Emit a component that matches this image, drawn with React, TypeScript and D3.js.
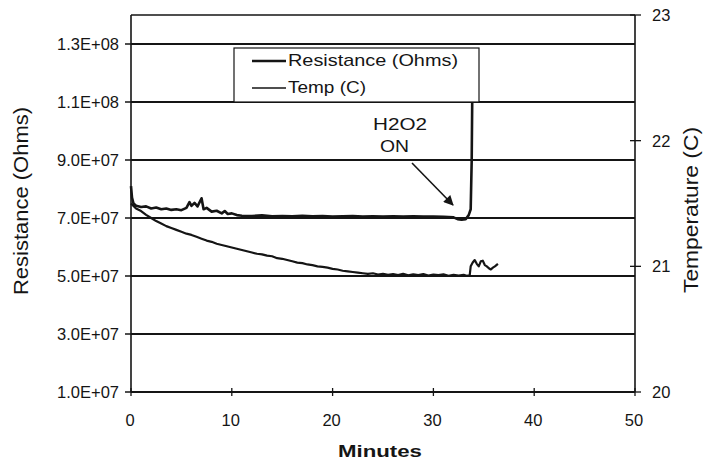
import React from "react";
import * as d3 from "d3";

const W = 707;
const H = 462;

const resTicks = [1e7, 3e7, 5e7, 7e7, 9e7, 1.1e8, 1.3e8];
const resTickLabels = ["1.0E+07", "3.0E+07", "5.0E+07", "7.0E+07", "9.0E+07", "1.1E+08", "1.3E+08"];
const tempTicks = [20, 21, 22, 23];
const minuteTicks = [0, 10, 20, 30, 40, 50];

// Resistance (Ohms) series
const resMinutes = [
  0, 0.1, 0.25, 0.5, 1, 1.5, 2, 2.5, 3, 3.5, 4, 4.5, 5, 5.5, 5.8, 6.0, 6.3, 6.6, 7.0, 7.2, 7.5, 8, 8.5, 9, 9.3, 9.6,
  10, 10.5, 11, 12, 13, 14, 15, 16, 17, 18, 19, 20, 21, 22, 23, 24, 25, 26, 27, 28, 29, 30, 31, 32, 32.4, 32.8,
  33.2, 33.5, 33.7, 33.8, 33.85,
];
const resOhms = [
  8.1e7, 7.7e7, 7.5e7, 7.42e7, 7.38e7, 7.4e7, 7.33e7, 7.36e7, 7.3e7, 7.33e7, 7.28e7, 7.3e7, 7.27e7, 7.35e7, 7.55e7,
  7.42e7, 7.52e7, 7.4e7, 7.68e7, 7.3e7, 7.35e7, 7.22e7, 7.25e7, 7.16e7, 7.24e7, 7.14e7, 7.16e7, 7.1e7, 7.08e7,
  7.07e7, 7.09e7, 7.06e7, 7.07e7, 7.06e7, 7.08e7, 7.06e7, 7.07e7, 7.05e7, 7.06e7, 7.07e7, 7.05e7, 7.06e7, 7.05e7,
  7.06e7, 7.05e7, 7.06e7, 7.05e7, 7.05e7, 7.04e7, 7.02e7, 6.96e7, 6.94e7, 6.96e7, 7.1e7, 7.3e7, 9.0e7, 1.1e8,
];

// Temperature (C) series
const tempMinutes = [
  0, 0.5, 1, 1.5, 2, 2.5, 3, 3.5, 4, 4.5, 5, 5.5, 6, 6.5, 7, 7.5, 8, 8.5, 9, 9.5, 10, 10.5, 11, 11.5, 12, 12.5, 13,
  13.5, 14, 14.5, 15, 15.5, 16, 16.5, 17, 17.5, 18, 18.5, 19, 19.5, 20, 20.5, 21, 21.5, 22, 22.5, 23, 23.5, 24, 24.5,
  25, 25.5, 26, 26.5, 27, 27.5, 28, 28.5, 29, 29.5, 30, 30.5, 31, 31.5, 32, 32.5, 33, 33.3, 33.6, 33.7, 33.9, 34.1,
  34.3, 34.5, 34.7, 34.9, 35.1, 35.3, 35.5, 35.7, 35.9, 36.1, 36.4,
];
const tempC = [
  21.5, 21.46, 21.44, 21.41, 21.385, 21.36, 21.34, 21.32, 21.305, 21.29, 21.275, 21.26, 21.25, 21.235, 21.22, 21.205,
  21.195, 21.18, 21.17, 21.16, 21.15, 21.14, 21.13, 21.12, 21.11, 21.1, 21.095, 21.085, 21.08, 21.065, 21.06, 21.05,
  21.04, 21.03, 21.025, 21.015, 21.01, 21.0, 20.995, 20.99, 20.98, 20.975, 20.965, 20.96, 20.955, 20.95, 20.945,
  20.94, 20.945, 20.935, 20.94, 20.932, 20.938, 20.93, 20.94, 20.928, 20.936, 20.93, 20.938, 20.926, 20.934, 20.93,
  20.936, 20.925, 20.933, 20.927, 20.932, 20.924, 20.928, 21.0, 21.03, 21.05, 21.02, 21.0, 21.04, 21.045, 21.01, 21.0,
  20.985, 20.975, 20.99, 21.0, 21.02,
];

const FONT = "'Liberation Sans', Arial, Helvetica, sans-serif";

export default function App() {
  const left = 131;
  const right = 635;
  const top = 15;
  const bottom = 392;

  const x = d3.scaleLinear().domain([0, 50]).range([left, right]);
  const yR = d3.scaleLinear().domain([1e7, 1.4e8]).range([bottom, top]);
  const yT = d3.scaleLinear().domain([20, 23]).range([bottom, top]);

  const resLine = d3
    .line<number>()
    .x((_, i) => x(resMinutes[i]))
    .y((d) => yR(d));
  const tempLine = d3
    .line<number>()
    .x((_, i) => x(tempMinutes[i]))
    .y((d) => yT(d));

  const ink = "#151515";

  return (
    <svg
      width={W}
      height={H}
      viewBox={`0 0 ${W} ${H}`}
      style={{ position: "absolute", left: 0, top: 0, background: "#fff" }}
      fontFamily={FONT}
    >
      <rect x={0} y={0} width={W} height={H} fill="#fff" />
      {/* gridlines */}
      {resTicks.map((t) => (
        <line key={"g" + t} x1={left} x2={right} y1={yR(t)} y2={yR(t)} stroke={ink} strokeWidth={2.2} />
      ))}
      {/* top border */}
      <line x1={left} x2={right} y1={top} y2={top} stroke={ink} strokeWidth={1.6} />
      {/* axes */}
      <line x1={left} x2={left} y1={top} y2={bottom} stroke={ink} strokeWidth={1.6} />
      <line x1={right} x2={right} y1={top} y2={bottom} stroke={ink} strokeWidth={1.6} />
      <line x1={left} x2={right} y1={bottom} y2={bottom} stroke={ink} strokeWidth={1.8} />

      {/* left ticks + labels */}
      {resTicks.map((t, i) => (
        <g key={"l" + t}>
          <line x1={left - 6} x2={left} y1={yR(t)} y2={yR(t)} stroke={ink} strokeWidth={1.5} />
          <text x={119} y={yR(t)} dy="0.36em" textAnchor="end" fontSize={16.5} fill={ink}>
            {resTickLabels[i]}
          </text>
        </g>
      ))}

      {/* right ticks + labels */}
      {tempTicks.map((t) => (
        <g key={"r" + t}>
          <line x1={right - 5} x2={right + 6} y1={yT(t)} y2={yT(t)} stroke={ink} strokeWidth={1.3} />
          <text x={652} y={yT(t)} dy="0.36em" textAnchor="start" fontSize={16.5} fill={ink}>
            {t}
          </text>
        </g>
      ))}

      {/* bottom ticks + labels */}
      {minuteTicks.map((t) => (
        <g key={"b" + t}>
          <line x1={x(t)} x2={x(t)} y1={bottom - 4} y2={bottom + 4} stroke={ink} strokeWidth={1.3} />
          <text x={x(t) - 1} y={420} dy="0.36em" textAnchor="middle" fontSize={16.5} fill={ink}>
            {t}
          </text>
        </g>
      ))}

      {/* series */}
      <path d={tempLine(tempC) || ""} fill="none" stroke={ink} strokeWidth={2.2} strokeLinejoin="round" />
      <path d={resLine(resOhms) || ""} fill="none" stroke={ink} strokeWidth={2.6} strokeLinejoin="round" />

      {/* legend */}
      <rect x={234} y={48} width={245} height={54} fill="#fff" stroke={ink} strokeWidth={1.2} />
      <line x1={252} x2={286} y1={61} y2={61} stroke={ink} strokeWidth={2.6} />
      <text x={288} y={66} fontSize={17} fill={ink} textLength={170} lengthAdjust="spacingAndGlyphs">
        Resistance (Ohms)
      </text>
      <line x1={252} x2={286} y1={88} y2={88} stroke={ink} strokeWidth={1.5} />
      <text x={288} y={93} fontSize={17} fill={ink} textLength={78} lengthAdjust="spacingAndGlyphs">
        Temp (C)
      </text>

      {/* annotation */}
      <text x={373} y={130} fontSize={16.5} fill={ink} textLength={54} lengthAdjust="spacingAndGlyphs">
        H2O2
      </text>
      <text x={380} y={152} fontSize={16.5} fill={ink} textLength={29} lengthAdjust="spacingAndGlyphs">
        ON
      </text>
      <defs>
        <marker id="arrow" viewBox="0 0 10 10" refX="9" refY="5" markerWidth="12" markerHeight="10" orient="auto" markerUnits="userSpaceOnUse">
          <path d="M0,0 L10,5 L0,10 z" fill={ink} />
        </marker>
      </defs>
      <line x1={412} y1={163} x2={453} y2={205} stroke={ink} strokeWidth={1.6} markerEnd="url(#arrow)" />

      {/* axis titles */}
      <text
        transform="translate(28,201) rotate(-90)"
        textAnchor="middle"
        fontSize={20.5}
        fill={ink}
        textLength={188}
        lengthAdjust="spacingAndGlyphs"
      >
        Resistance (Ohms)
      </text>
      <text
        transform="translate(698,210) rotate(-90)"
        textAnchor="middle"
        fontSize={20.5}
        fill={ink}
        textLength={166}
        lengthAdjust="spacingAndGlyphs"
      >
        Temperature (C)
      </text>
      <text x={380} y={457} textAnchor="middle" fontSize={17} fontWeight="bold" fill={ink} textLength={84} lengthAdjust="spacingAndGlyphs">
        Minutes
      </text>
    </svg>
  );
}
